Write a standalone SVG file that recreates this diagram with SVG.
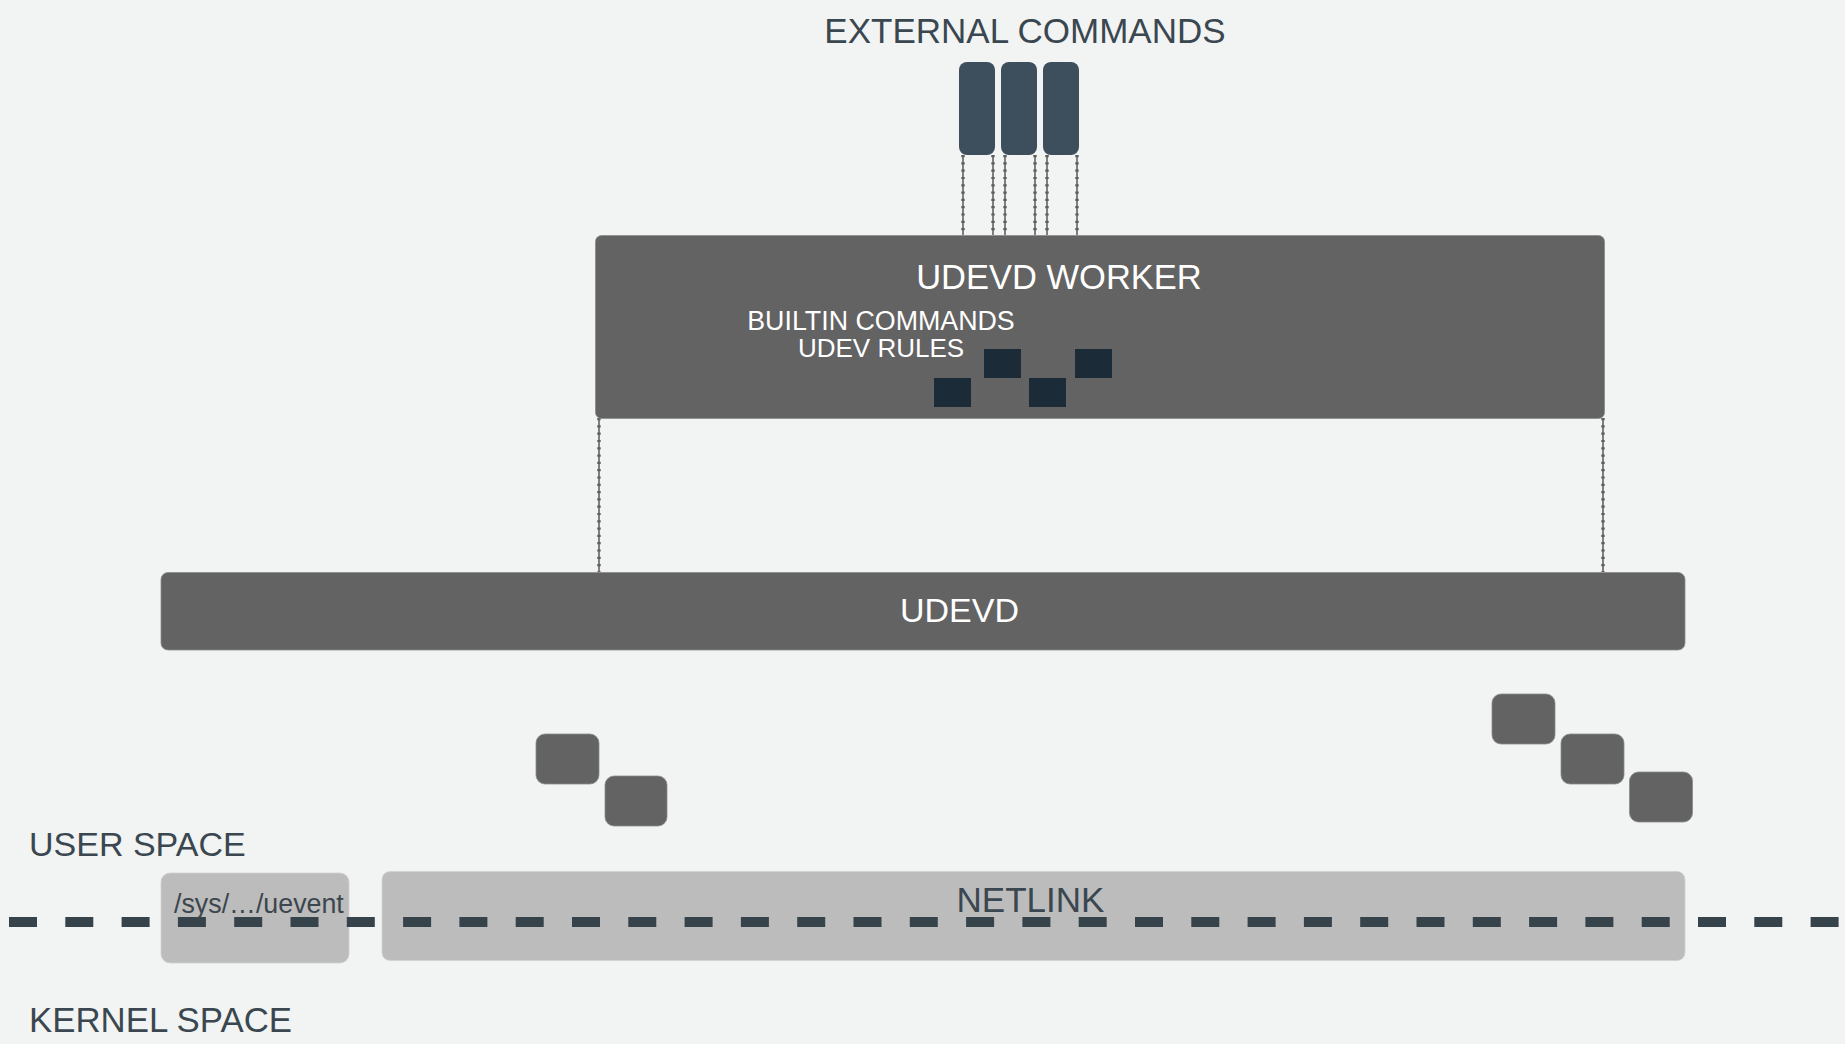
<svg xmlns="http://www.w3.org/2000/svg" width="1845" height="1044" viewBox="0 0 1845 1044">
  <style>
    .t{font-family:"Liberation Sans",Arial,sans-serif;}
    .dark{fill:#3a4750;}
    .white{fill:#ffffff;}
    .gbox{fill:#636363;stroke:#8a8a8a;stroke-width:0.8;}
    .lbox{fill:#bbbcbb;stroke:#d0d0d0;stroke-width:0.8;}
    .ext{fill:#3d4f5d;}
    .rule{fill:#1b2b38;}
    .conn-line{stroke:#4e4e4e;stroke-width:1.4;fill:none;}
    .conn-dot{stroke:#5e5e5e;stroke-width:3.4;stroke-dasharray:2.2 5.1;fill:none;}
  </style>
  <rect width="1845" height="1044" fill="#f2f4f3"/>

  <g id="connectors">
    <path class="conn-line" d="M963 155V235M993 155V235M1005 155V235M1035 155V235M1047 155V235M1077 155V235M599 418V572M1603 418V572"/>
    <path class="conn-dot" d="M963 155V235M993 155V235M1005 155V235M1035 155V235M1047 155V235M1077 155V235M599 418V572M1603 418V572"/>
  </g>

  <g id="external-commands">
    <text class="t dark" x="1025" y="43" font-size="35" text-anchor="middle">EXTERNAL COMMANDS</text>
    <rect class="ext" x="959" y="62" width="36" height="93" rx="8"/>
    <rect class="ext" x="1001" y="62" width="36" height="93" rx="8"/>
    <rect class="ext" x="1043" y="62" width="36" height="93" rx="8"/>
  </g>

  <g id="udevd-worker">
    <rect class="gbox" x="595.5" y="235.5" width="1009" height="183" rx="6"/>
    <text class="t white" x="1059" y="289" font-size="34.5" text-anchor="middle">UDEVD WORKER</text>
    <text class="t white" x="881" y="330" font-size="26.8" text-anchor="middle">BUILTIN COMMANDS</text>
    <text class="t white" x="881" y="357" font-size="26" text-anchor="middle">UDEV RULES</text>
    <rect class="rule" x="984" y="349" width="37" height="29"/>
    <rect class="rule" x="1075" y="349" width="37" height="29"/>
    <rect class="rule" x="934" y="378" width="37" height="29"/>
    <rect class="rule" x="1029" y="378" width="37" height="29"/>
  </g>

  <g id="udevd">
    <rect class="gbox" x="161" y="572.5" width="1524" height="77.5" rx="7"/>
    <text class="t white" x="959.5" y="622" font-size="34" text-anchor="middle">UDEVD</text>
  </g>

  <g id="events-left">
    <rect class="gbox" x="536" y="734" width="63" height="50" rx="9"/>
    <rect class="gbox" x="605" y="776" width="62" height="50" rx="9"/>
  </g>

  <g id="events-right">
    <rect class="gbox" x="1492" y="694" width="63" height="50" rx="9"/>
    <rect class="gbox" x="1561" y="734" width="63" height="50" rx="9"/>
    <rect class="gbox" x="1629.5" y="772" width="63" height="50" rx="9"/>
  </g>

  <g id="uevent">
    <rect class="lbox" x="161" y="873" width="188" height="90" rx="9"/>
  </g>

  <g id="netlink">
    <rect class="lbox" x="382" y="871.5" width="1303" height="89" rx="8"/>
  </g>

  <g id="boundary">
    <line x1="9" y1="922" x2="1845" y2="922" stroke="#37434a" stroke-width="10" stroke-dasharray="28 28.3"/>
  </g>

  <g id="labels">
    <text class="t dark" x="1030.5" y="912" font-size="35" text-anchor="middle">NETLINK</text>
    <text class="t" x="174" y="913" font-size="26.8" fill="#3c464e">/sys/…/uevent</text>
    <text class="t dark" x="29" y="856" font-size="34">USER SPACE</text>
    <text class="t dark" x="29" y="1032" font-size="34.8">KERNEL SPACE</text>
  </g>
</svg>
